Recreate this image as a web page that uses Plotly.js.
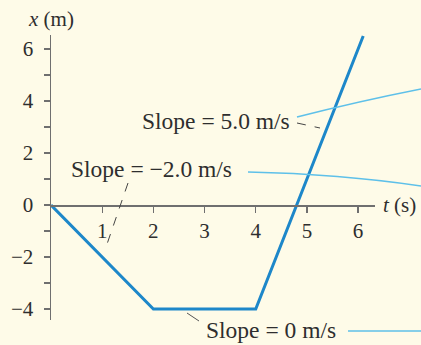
<!DOCTYPE html>
<html>
<head>
<meta charset="utf-8">
<script src="https://cdn.plot.ly/plotly-3.0.1.min.js"></script>
<style>
  html, body { margin: 0; padding: 0; background: #fefbe8; }
  #chart { width: 421px; height: 345px; }
</style>
</head>
<body>
<div id="chart"></div>
<script>
// Position-time graph made of three constant-velocity segments
const segmentStarts = [0, 2, 4];        // t (s) at the start of each segment
const segmentEnds   = [2, 4, 6.1];      // t (s) at the end of each segment
const segmentSlopes = [-2.0, 0, 5.0];   // velocity of each segment (m/s)
const slopeLabels   = ['Slope = \u22122.0 m/s', 'Slope = 0 m/s', 'Slope = 5.0 m/s'];
const startPosition = 0;                // x (m) at t = 0
const xTickVals = [1, 2, 3, 4, 5, 6];
const yTickVals = [-4, -2, 0, 2, 4, 6];
const yMinorVals = [-3, -1, 1, 3, 5];

// Build the polyline by stepping through each segment with its slope
const tPoints = [segmentStarts[0]];
const xPoints = [startPosition];
segmentSlopes.forEach((v, i) => {
  const dt = segmentEnds[i] - segmentStarts[i];
  tPoints.push(segmentEnds[i]);
  xPoints.push(xPoints[xPoints.length - 1] + v * dt);
});

const X_RANGE = [0, 6.33];
const Y_RANGE = [-4.42, 6.54];
const M = { l: 51, r: 46, t: 35, b: 25 };
const W = 421, H = 345;

// pixel -> paper helpers for the callouts, which run past the plot area
const px = p => (p - M.l) / (W - M.l - M.r);
const py = p => (H - M.b - p) / (H - M.t - M.b);

const serif = '"Liberation Serif", "Times New Roman", serif';
const ink = '#2e2e2e';
const axisGray = '#6f6f6f';
const lineBlue = '#1d87c9';
const leaderBlue = '#5ec0e9';

const trace = {
  x: tPoints,
  y: xPoints,
  type: 'scatter',
  mode: 'lines',
  line: { color: lineBlue, width: 3 },
  cliponaxis: false,
  hoverinfo: 'skip'
};

function lineShape(x0, y0, x1, y1, color, width, dash) {
  return {
    type: 'line', xref: 'paper', yref: 'paper',
    x0: px(x0), y0: py(y0), x1: px(x1), y1: py(y1),
    line: { color: color, width: width, dash: dash || 'solid' },
    layer: 'above'
  };
}

function curveShape(x0, y0, cx, cy, x1, y1, color, width) {
  return {
    type: 'path', xref: 'paper', yref: 'paper',
    path: `M ${px(x0)} ${py(y0)} Q ${px(cx)} ${py(cy)} ${px(x1)} ${py(y1)}`,
    line: { color: color, width: width },
    layer: 'above'
  };
}

const shapes = [
  // 5.0 m/s callout
  curveShape(297, 117, 360, 101, 421, 89, leaderBlue, 1.6),
  lineShape(297, 123, 320, 128, '#444', 1, 'dash'),
  // -2.0 m/s callout
  curveShape(248, 172, 340, 174, 421, 186, leaderBlue, 1.6),
  lineShape(128, 183, 105, 250, '#444', 1, 'dash'),
  // 0 m/s callout
  lineShape(348, 331, 421, 331, leaderBlue, 1.6),
  lineShape(187, 313, 199, 321, '#555', 1, 'solid')
];

const labelFont = { family: serif, size: 23.5, color: ink };
const annotations = [
  { text: slopeLabels[2], x: px(140), y: py(120.5), xref: 'paper', yref: 'paper',
    xanchor: 'left', yanchor: 'middle', showarrow: false, font: labelFont },
  { text: slopeLabels[0], x: px(69), y: py(168.5), xref: 'paper', yref: 'paper',
    xanchor: 'left', yanchor: 'middle', showarrow: false, font: labelFont },
  { text: slopeLabels[1], x: px(204), y: py(330), xref: 'paper', yref: 'paper',
    xanchor: 'left', yanchor: 'middle', showarrow: false, font: labelFont },
  { text: '<i>x</i> (m)', x: 0, y: 1, xref: 'x', yref: 'paper',
    xanchor: 'center', yanchor: 'bottom', yshift: 2, showarrow: false,
    font: { family: serif, size: 21, color: ink } },
  { text: '<i>t</i> (s)', x: 1, y: 0, xref: 'paper', yref: 'y',
    xanchor: 'left', yanchor: 'middle', xshift: 6, showarrow: false,
    font: { family: serif, size: 21, color: ink } }
];

const layout = {
  width: W, height: H,
  margin: M,
  paper_bgcolor: '#fefbe8',
  plot_bgcolor: '#fefbe8',
  showlegend: false,
  xaxis: {
    range: X_RANGE,
    anchor: 'free',
    position: (0 - Y_RANGE[0]) / (Y_RANGE[1] - Y_RANGE[0]),
    showline: true, linecolor: axisGray, linewidth: 1.5,
    ticks: 'outside', ticklen: 6, tickwidth: 1.3, tickcolor: axisGray,
    tickvals: xTickVals,
    showgrid: false, zeroline: false,
    tickfont: { family: serif, size: 21, color: ink },
    fixedrange: true
  },
  yaxis: {
    range: Y_RANGE,
    showline: true, linecolor: axisGray, linewidth: 1.5,
    ticks: 'outside', ticklen: 6, tickwidth: 1.3, tickcolor: axisGray,
    tickvals: yTickVals,
    minor: { tickvals: yMinorVals, ticks: 'outside', ticklen: 6, tickwidth: 1.3, tickcolor: axisGray, showgrid: false },
    ticklabelstandoff: 6,
    showgrid: false, zeroline: false,
    tickfont: { family: serif, size: 21, color: ink },
    fixedrange: true
  },
  shapes: shapes,
  annotations: annotations
};

Plotly.newPlot('chart', [trace], layout, { staticPlot: true, displayModeBar: false });
</script>
</body>
</html>
